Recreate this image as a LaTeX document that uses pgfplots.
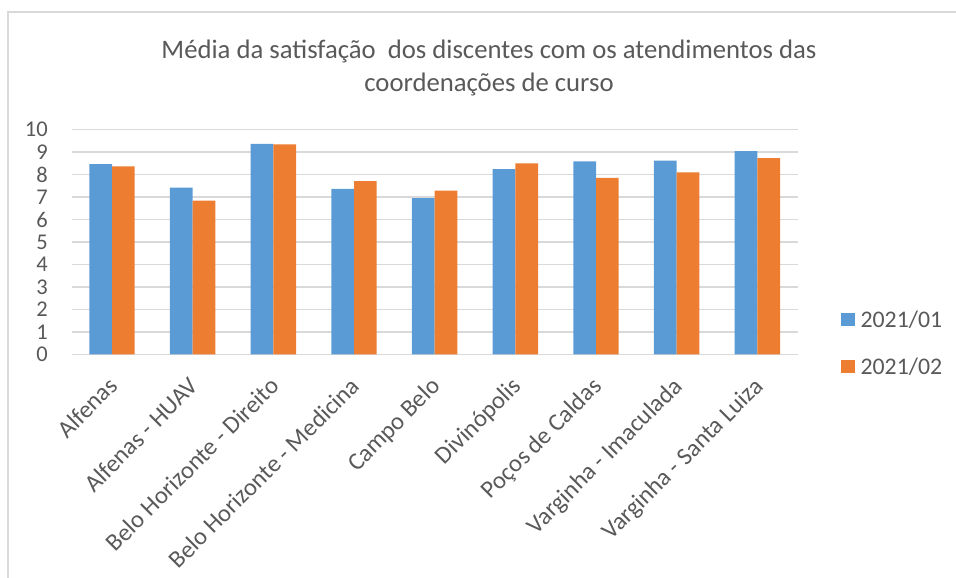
\documentclass[border=0pt]{standalone}
\usepackage{fontspec}
\setmainfont{Carlito}
\usepackage{pgfplots}
\pgfplotsset{compat=1.18}
\definecolor{cblue}{HTML}{5B9BD5}
\definecolor{corange}{HTML}{ED7D31}
\definecolor{tgray}{HTML}{595959}
\definecolor{ggray}{HTML}{D9D9D9}
\begin{document}
\begin{tikzpicture}[x=1pt,y=1pt]
\useasboundingbox (0,0) rectangle (956,578);
\draw[ggray, line width=1.2pt] (8,0) -- (8,566) -- (956,566);
\node[align=center, text=tgray, font=\fontsize{26.7}{33}\selectfont] at (489,510) {Média da satisfação~ dos discentes com os atendimentos das\\coordenações de curso};
\begin{axis}[
  at={(71.7pt,223.5pt)}, anchor=south west,
  scale only axis, width=726pt, height=225pt,
  ymin=0, ymax=10, ytick={0,1,...,10},
  xmin=-0.5, xmax=8.5, xtick={0,1,...,8},
  xticklabels={Alfenas, Alfenas - HUAV, Belo Horizonte - Direito, Belo Horizonte - Medicina, Campo Belo, Divinópolis, Poços de Caldas, Varginha - Imaculada, Varginha - Santa Luiza},
  ybar=0pt, bar width=22.7pt,
  axis line style={draw=none},
  major tick length=0pt,
  ymajorgrids, grid style={ggray, line width=1.2pt},
  /pgf/number format/assume math mode=true,
  yticklabel style={font=\fontsize{22.5}{22.5}\selectfont, text=tgray, anchor=east, inner sep=0pt, xshift=-23.7pt},
  xticklabel style={font=\fontsize{24.5}{24.5}\selectfont, text=tgray, inner sep=0pt, xshift=-5pt, yshift=-21pt, rotate=45, anchor=north east},
  legend style={draw=none, fill=none, at={(axis description cs:1,0.051)}, anchor=west, xshift=43.3pt, font=\fontsize{23.8}{24}\selectfont, text=tgray, row sep=29pt, inner sep=0pt, nodes={inner sep=0pt}, column sep=6pt},
  legend cell align=left,
  legend image code/.code={\fill[#1] (0pt,-6.7pt) rectangle (13.4pt,6.7pt);},
]
\addplot[fill=cblue, draw=none] coordinates {(0,8.46) (1,7.42) (2,9.36) (3,7.36) (4,6.95) (5,8.24) (6,8.58) (7,8.62) (8,9.04)};
\addplot[fill=corange, draw=none] coordinates {(0,8.36) (1,6.84) (2,9.34) (3,7.71) (4,7.28) (5,8.49) (6,7.85) (7,8.09) (8,8.73)};
\legend{2021/01, 2021/02}
\end{axis}
\end{tikzpicture}
\end{document}
